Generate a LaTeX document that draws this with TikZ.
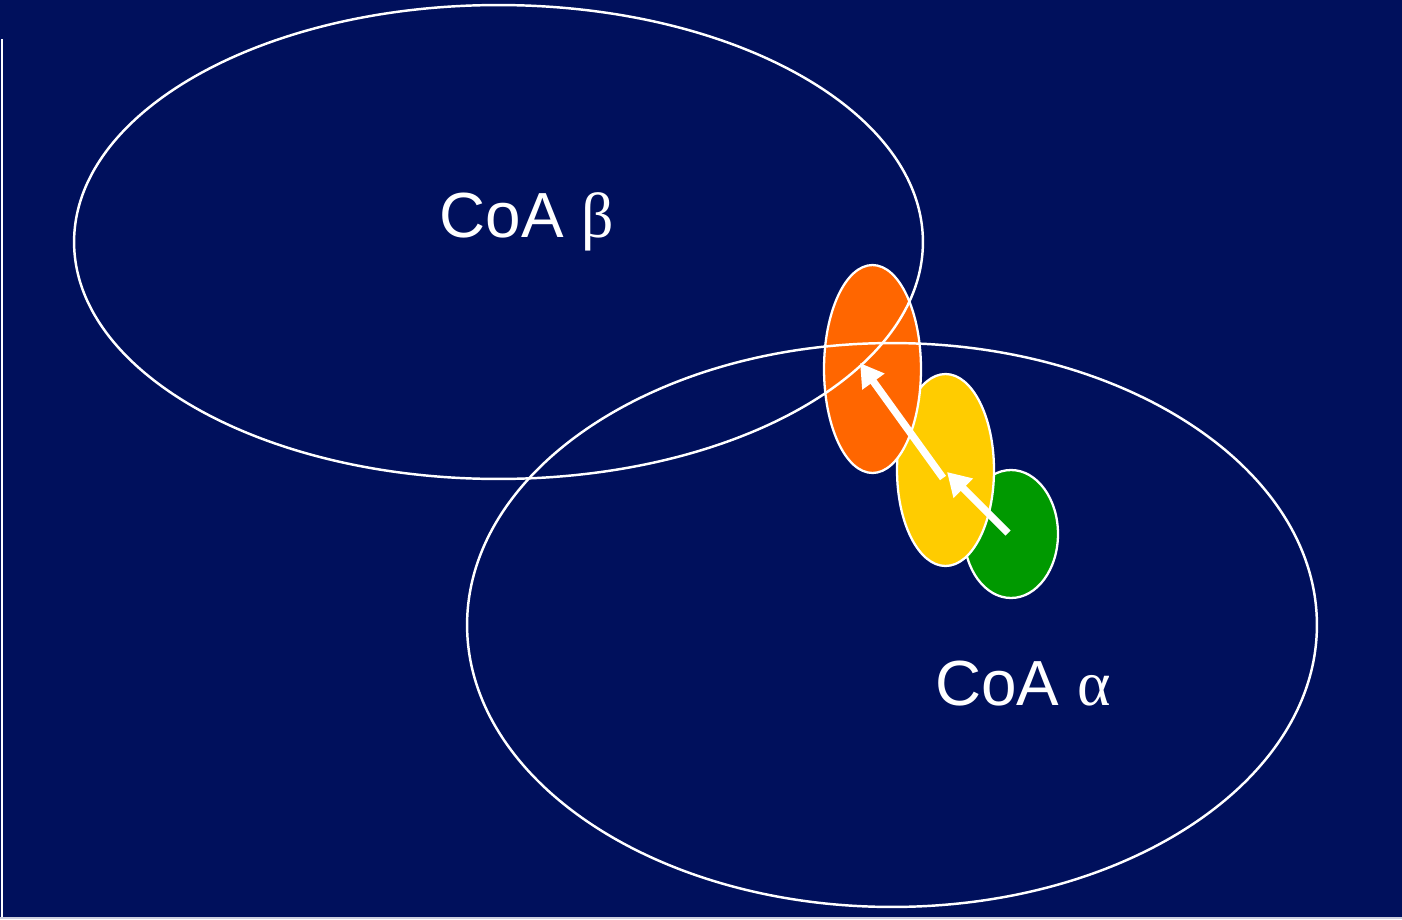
\documentclass[tikz,border=0pt]{standalone}
\usepackage{fontspec}
\setmainfont{Liberation Sans}
\newfontfamily\greekfont{Liberation Serif}
\usetikzlibrary{shapes.geometric,arrows.meta}
\definecolor{navy}{RGB}{0,16,92}
\definecolor{coaorange}{RGB}{255,102,0}
\definecolor{coayellow}{RGB}{255,204,0}
\definecolor{coagreen}{RGB}{0,153,0}

\begin{document}
\begin{tikzpicture}[x=0.02cm,y=-0.02cm,
  region/.style={ellipse,draw=white,line width=1.4pt,inner sep=0pt},
  blob/.style={ellipse,draw=white,line width=1.3pt,inner sep=0pt},
  arr/.style={white,line width=4.2pt,-{Triangle[width=0.52cm,length=0.46cm]}},
  lbl/.style={white,anchor=base,font=\fontsize{36.3}{43}\selectfont}]
\fill[navy] (0,0) rectangle (1402,919);
\useasboundingbox (0,0) rectangle (1402,919);
\draw[white,line width=1.2pt] (2,39) -- (2,919);
\draw[white!80!navy,line width=1pt] (0,918) -- (1402,918);
% small ellipses, back to front
\node[blob,fill=coagreen,minimum width=1.88cm,minimum height=2.56cm] (green) at (1011,534) {};
\node[blob,fill=coayellow,minimum width=1.94cm,minimum height=3.84cm] (yellow) at (945.5,470) {};
\node[blob,fill=coaorange,minimum width=1.94cm,minimum height=4.16cm] (orange) at (872.5,369) {};
% large regions
\node[region,minimum width=16.98cm,minimum height=9.48cm] (beta) at (498.5,242) {};
\node[region,minimum width=17cm,minimum height=11.28cm] (alpha) at (892,625) {};
\node[lbl] (betalbl) at (527,237) {CoA {\greekfont β}};
\node[lbl] (alphalbl) at (1023,705) {CoA {\greekfont α}};
% arrows
\coordinate (gstart) at (1008,533);
\coordinate (ytip) at (947,472);
\coordinate (ystart) at (943,478);
\coordinate (otip) at (860,363);
\draw[arr] (gstart) -- (ytip);
\draw[arr] (ystart) -- (otip);
\end{tikzpicture}
\end{document}
